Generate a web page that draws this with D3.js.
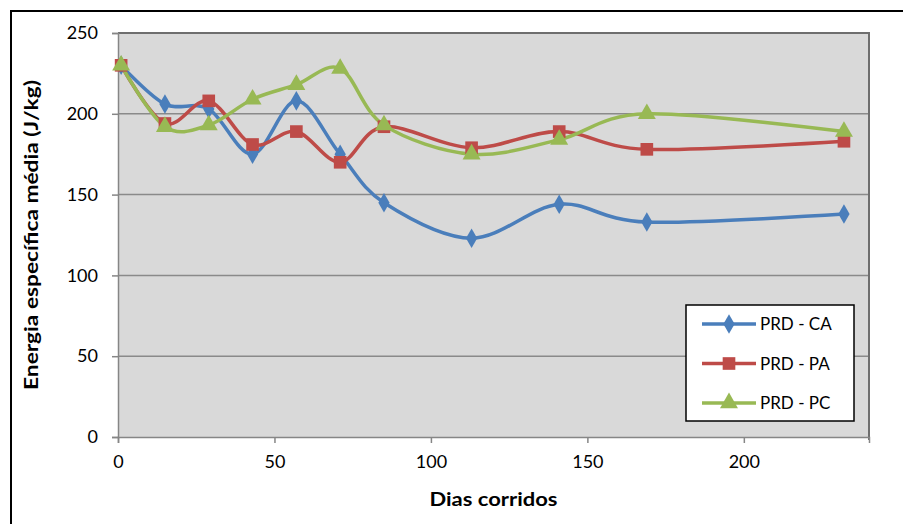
<!DOCTYPE html>
<html><head><meta charset="utf-8">
<script src="https://cdn.jsdelivr.net/npm/d3@7"></script>
<style>
html,body{margin:0;padding:0;background:#fff;}
svg{display:block;}
text{font-family:Lato,"Open Sans",sans-serif;}
</style></head>
<body>
<svg id="c" width="903" height="524"></svg>
<script>
const days = [1, 15, 29, 43, 57, 71, 85, 113, 141, 169, 232];
const seriesNames = ["PRD - CA", "PRD - PA", "PRD - PC"];
const valuesCA = [230, 206, 203, 175, 208, 175, 145, 123, 144, 133, 138];
const valuesPA = [230, 194, 208, 181, 189, 170, 192, 179, 189, 178, 183];
const valuesPC = [230, 192, 193, 209, 218, 228, 193, 175, 184, 200, 189];
const xTicks = [0, 50, 100, 150, 200];
const yTicks = [0, 50, 100, 150, 200, 250];
const colors = ["#4a7ebb", "#be4b48", "#98b954"];
const markers = ["diamond", "square", "triangle"];
const xTitle = "Dias corridos";
const yTitle = "Energia específica média (J/kg)";

const series = [valuesCA, valuesPA, valuesPC].map((v, i) => ({
  name: seriesNames[i], color: colors[i], marker: markers[i],
  pts: days.map((d, j) => [d, v[j]])
}));

const svg = d3.select("#c");
const L = 118, R = 869, T = 33, B = 437;
const x = d3.scaleLinear().domain([0, 240]).range([L, R]);
const y = d3.scaleLinear().domain([0, 250]).range([B, T]);

// outer border
svg.append("path").attr("d", `M11,530 L11,11 L910,11`).attr("fill", "none")
  .attr("stroke", "#000").attr("stroke-width", 2);

// plot background
svg.append("rect").attr("x", L).attr("y", T).attr("width", R - L).attr("height", B - T)
  .attr("fill", "#d9d9d9");

// gridlines
svg.append("g").selectAll("line").data(yTicks.filter(t => t > 0 && t < 250)).join("line")
  .attr("x1", L).attr("x2", R).attr("y1", d => y(d)).attr("y2", d => y(d))
  .attr("stroke", "#8a8a8a").attr("stroke-width", 1.5);

// plot border top/right
svg.append("path").attr("d", `M${L},${T} L${R},${T} L${R},${B+3}`).attr("fill", "none")
  .attr("stroke", "#6e6e6e").attr("stroke-width", 2);

// axes
const yAxis = d3.axisLeft(y).tickValues(yTicks).tickSize(6).tickPadding(14);
const gy = svg.append("g").attr("transform", `translate(${L},0)`).call(yAxis);
const xAxis = d3.axisBottom(x).tickValues(xTicks).tickSize(6).tickPadding(12);
const gx = svg.append("g").attr("transform", `translate(0,${B})`).call(xAxis);
[gx, gy].forEach(g => {
  g.select(".domain").attr("stroke", "#868686").attr("stroke-width", 1.5);
  g.selectAll(".tick line").attr("stroke", "#868686").attr("stroke-width", 1.5);
  g.selectAll(".tick text").attr("fill", "#000").style("font-size", "18px")
    .style("font-family", "Lato,'Open Sans',sans-serif");
});

// titles
svg.append("text").attr("x", (L + R) / 2).attr("y", 506).attr("text-anchor", "middle")
  .style("font-size", "19px").style("font-weight", "bold")
  .attr("textLength", 128).attr("lengthAdjust", "spacingAndGlyphs").text(xTitle);
svg.append("text").attr("transform", `translate(38,${(T + B) / 2}) rotate(-90)`)
  .attr("text-anchor", "middle").style("font-size", "18px").style("font-weight", "bold")
  .attr("textLength", 310).attr("lengthAdjust", "spacingAndGlyphs").text(yTitle);

// lines
const line = d3.line().x(d => x(d[0])).y(d => y(d[1])).curve(d3.curveCardinal.tension(0));
const sym = {
  diamond: d3.symbol().type(d3.symbolDiamond).size(110),
  square: d3.symbol().type(d3.symbolSquare).size(160),
  triangle: d3.symbol().type(d3.symbolTriangle).size(140)
};
series.forEach(s => {
  svg.append("path").attr("d", line(s.pts)).attr("fill", "none")
    .attr("stroke", s.color).attr("stroke-width", 3.5).attr("stroke-linejoin", "round");
});
series.forEach(s => {
  svg.append("g").selectAll("path").data(s.pts).join("path")
    .attr("transform", d => `translate(${x(d[0])},${y(d[1])})`)
    .attr("d", sym[s.marker]()).attr("fill", s.color);
});

// legend
const lg = svg.append("g");
lg.append("rect").attr("x", 686).attr("y", 305).attr("width", 168).attr("height", 116)
  .attr("fill", "#fff").attr("stroke", "#000").attr("stroke-width", 1.5);
series.forEach((s, i) => {
  const cy = 324 + i * 39.5;
  lg.append("line").attr("x1", 702).attr("x2", 756).attr("y1", cy).attr("y2", cy)
    .attr("stroke", s.color).attr("stroke-width", 3.5);
  lg.append("path").attr("transform", `translate(729,${cy})`).attr("d", sym[s.marker]())
    .attr("fill", s.color);
  lg.append("text").attr("x", 760).attr("y", cy + 6).style("font-size", "17px").text(s.name);
});
</script>
</body></html>
